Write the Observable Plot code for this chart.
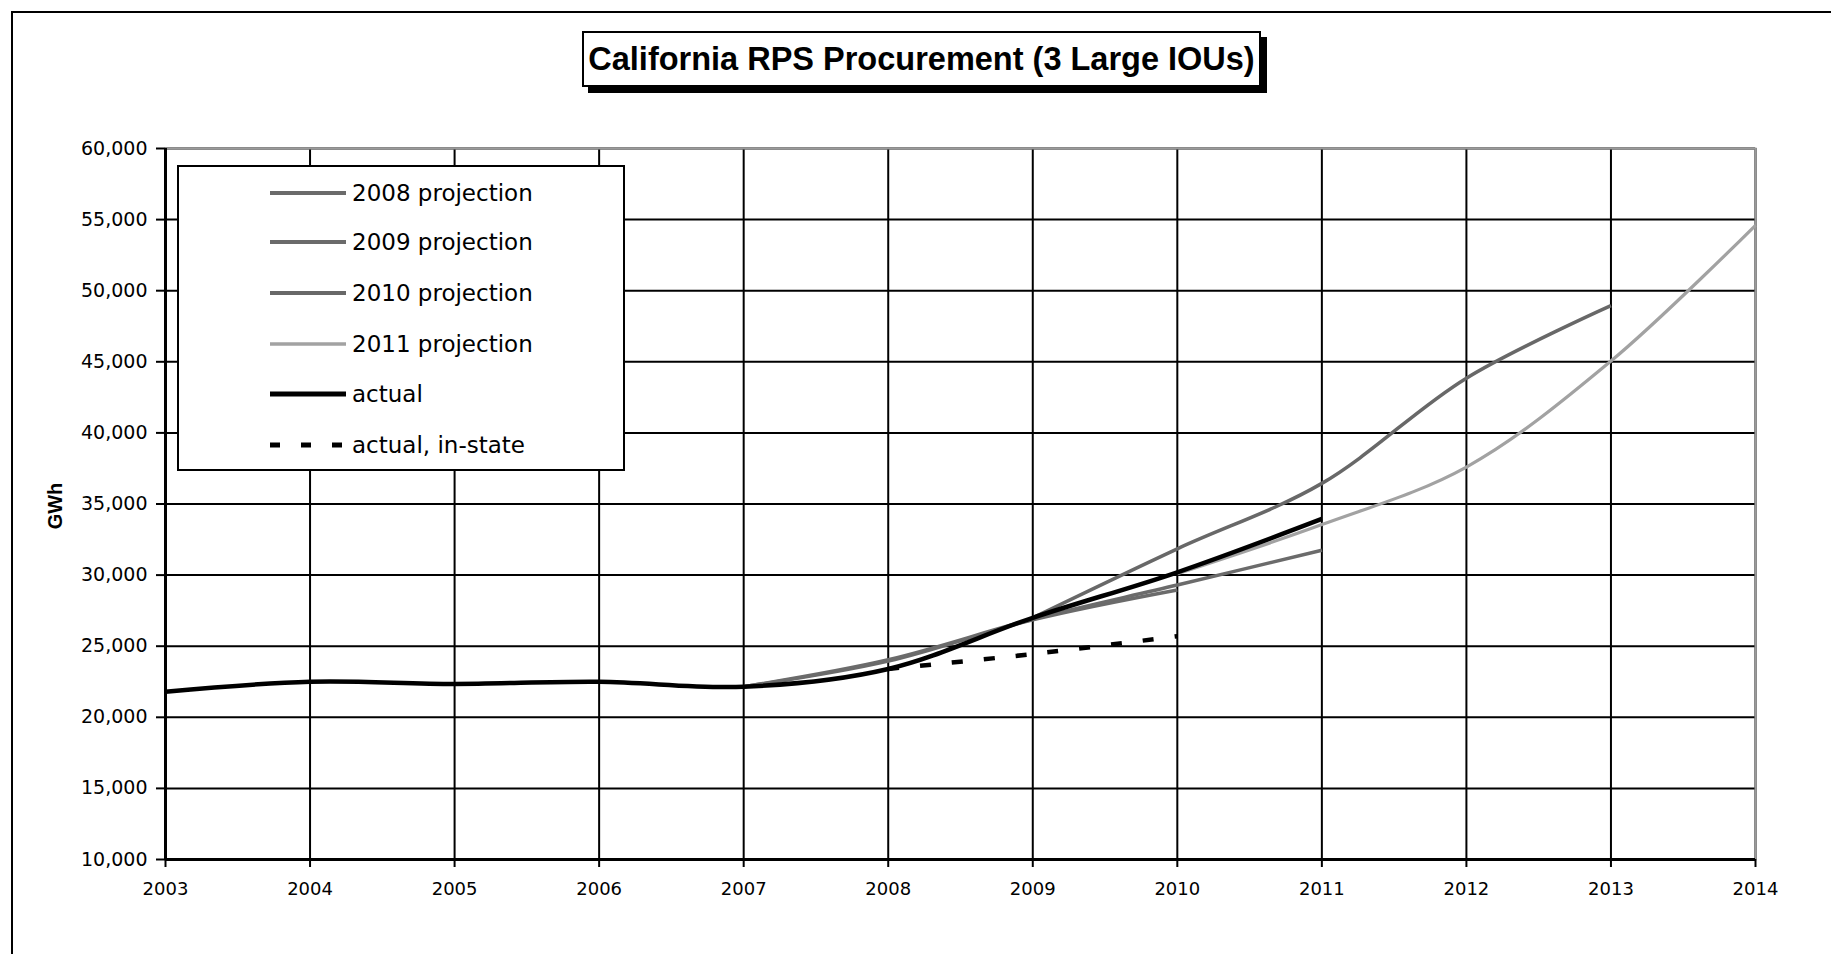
<!DOCTYPE html>
<html>
<head>
<meta charset="utf-8">
<script src="https://cdn.jsdelivr.net/npm/d3@7"></script>
<script src="https://cdn.jsdelivr.net/npm/@observablehq/plot@0.6"></script>
<style>
  html, body { margin: 0; padding: 0; background: #fff; overflow: hidden; }
  #wrap { position: relative; width: 1831px; height: 954px; overflow: hidden; background: #fff; }
  #frame { position: absolute; left: 11px; top: 11px; width: 2000px; height: 2000px;
           border-left: 2px solid #000; border-top: 2px solid #000; box-sizing: border-box; }
  #chart { position: absolute; left: 0; top: 0; }
  #title { position: absolute; left: 582px; top: 31px; width: 679px; height: 56px; box-sizing: border-box;
           border: 2px solid #000; background: #fff; box-shadow: 6px 6px 0 #000;
           font-family: "Liberation Sans", Arial, sans-serif; font-weight: bold; font-size: 32.5px;
           line-height: 52px; text-align: center; color: #000; white-space: nowrap; }
  #ylabel { position: absolute; left: 55px; top: 506px; transform: translate(-50%, -50%) rotate(-90deg);
            font-family: "Liberation Sans", Arial, sans-serif; font-weight: bold; font-size: 20px; color: #000; }
  #legend { position: absolute; left: 177px; top: 165px; width: 448px; height: 306px; box-sizing: border-box;
            border: 2px solid #000; background: #fff; }
  .row { position: absolute; left: 0; height: 30px; display: flex; align-items: center; }
  .row svg { position: absolute; left: 91px; top: 5px; }
  .row span { position: absolute; left: 173px; top: 50%; transform: translateY(-50%);
              font-family: "DejaVu Sans", sans-serif; font-size: 23px; color: #000; white-space: nowrap; }
</style>
</head>
<body>
<div id="wrap">
  <div id="chart"></div>
  <div id="frame"></div>
  <div id="title">California RPS Procurement (3 Large IOUs)</div>
  <div id="ylabel">GWh</div>
  <div id="legend"></div>
</div>
<script>
// ---- data ----
const yearTicks = [2003, 2004, 2005, 2006, 2007, 2008, 2009, 2010, 2011, 2012, 2013, 2014];
const gwhTicks = [10000, 15000, 20000, 25000, 30000, 35000, 40000, 45000, 50000, 55000, 60000];

const proj2008Years  = [2007, 2008, 2009, 2010];
const proj2008Values = [22150, 23950, 26850, 28950];

const proj2009Years  = [2007, 2008, 2009, 2010, 2011];
const proj2009Values = [22150, 24050, 26900, 29300, 31750];

const proj2010Years  = [2009, 2010, 2011, 2012, 2013];
const proj2010Values = [27000, 31850, 36450, 43850, 48950];

const proj2011Years  = [2010, 2011, 2012, 2013, 2014];
const proj2011Values = [30100, 33550, 37600, 45050, 54600];

const actualYears  = [2003, 2004, 2005, 2006, 2007, 2008, 2009, 2010, 2011];
const actualValues = [21800, 22500, 22350, 22500, 22150, 23400, 27000, 30200, 33950];

const inStateYears  = [2008, 2009, 2010];
const inStateValues = [23400, 24450, 25700];

const seriesNames = ["2008 projection", "2009 projection", "2010 projection", "2011 projection", "actual", "actual, in-state"];

// ---- styles ----
const styles = {
  "2008 projection":  {stroke: "#6b6b6b", strokeWidth: 3.5},
  "2009 projection":  {stroke: "#6b6b6b", strokeWidth: 3.5},
  "2010 projection":  {stroke: "#686868", strokeWidth: 3.5},
  "2011 projection":  {stroke: "#a2a2a2", strokeWidth: 3.2},
  "actual":           {stroke: "#000000", strokeWidth: 4.5},
  "actual, in-state": {stroke: "#000000", strokeWidth: 4.5, strokeDasharray: "11,21"}
};

function toRows(xs, ys) { return xs.map((x, i) => ({year: x, value: ys[i]})); }
const seriesData = {
  "2008 projection": toRows(proj2008Years, proj2008Values),
  "2009 projection": toRows(proj2009Years, proj2009Values),
  "2010 projection": toRows(proj2010Years, proj2010Values),
  "2011 projection": toRows(proj2011Years, proj2011Values),
  "actual": toRows(actualYears, actualValues),
  "actual, in-state": toRows(inStateYears, inStateValues)
};

const lineMarks = seriesNames.map(name =>
  Plot.line(seriesData[name], {x: "year", y: "value", curve: "catmull-rom", strokeLinecap: "butt", ...styles[name]})
);

const chart = Plot.plot({
  width: 1831,
  height: 954,
  marginLeft: 165,
  marginRight: 76,
  marginTop: 148,
  marginBottom: 95,
  x: {domain: [2003, 2014]},
  y: {domain: [10000, 60000]},
  style: {fontFamily: "DejaVu Sans", fontSize: "19px", color: "#000", background: "transparent", overflow: "visible"},
  marks: [
    Plot.gridX(yearTicks, {stroke: "#000", strokeOpacity: 1, strokeWidth: 2}),
    Plot.gridY(gwhTicks, {stroke: "#000", strokeOpacity: 1, strokeWidth: 2}),
    Plot.frame({stroke: "#9a9a9a", strokeWidth: 2}),
    Plot.ruleX([2003], {stroke: "#000", strokeWidth: 3}),
    Plot.ruleY([10000], {stroke: "#000", strokeWidth: 3}),
    Plot.axisX(yearTicks, {tickFormat: d => String(d), tickSize: 8, tickPadding: 15, strokeWidth: 2, label: null, fontSize: 18}),
    Plot.axisY(gwhTicks, {tickFormat: d3.format(","), tickSize: 9, tickPadding: 9, strokeWidth: 2, label: null, fontSize: 19}),
    ...lineMarks
  ]
});
document.getElementById("chart").appendChild(chart);

// ---- legend ----
const legend = document.getElementById("legend");
const rowTops = [11, 60, 111, 162, 212, 263];
seriesNames.forEach((name, i) => {
  const s = styles[name];
  const row = document.createElement("div");
  row.className = "row";
  row.style.top = rowTops[i] + "px";
  row.style.width = "440px";
  row.innerHTML =
    `<svg width="76" height="20"><line x1="0" y1="10" x2="76" y2="10" stroke="${s.stroke}" stroke-width="${s.strokeWidth + 0.5}"` +
    (s.strokeDasharray ? ` stroke-dasharray="10,21"` : "") + `/></svg><span>${name}</span>`;
  legend.appendChild(row);
});
</script>
</body>
</html>
